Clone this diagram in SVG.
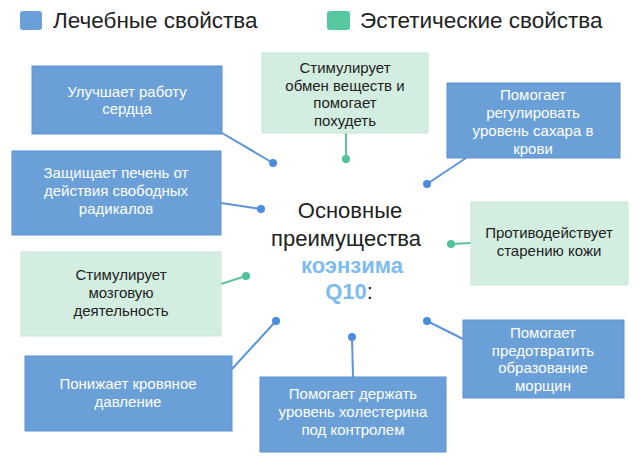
<svg xmlns="http://www.w3.org/2000/svg" width="640" height="459" viewBox="0 0 640 459">
<style>
text{font-family:"Liberation Sans","Open Sans",sans-serif;text-anchor:middle}
.b{fill:#6a9fd8;stroke:#5c92cf;stroke-width:1}
.g{fill:#d3eee1;stroke:#c8e8d8;stroke-width:1}
.tw{fill:#ffffff;font-size:15px}
.tk{fill:#222222;font-size:15px}
.lb{stroke:#5b95d8;stroke-width:2;fill:none}
.lg{stroke:#5cc49a;stroke-width:2;fill:none}
.db{fill:#4a8de0}
.dg{fill:#4fc397}
.leg{font-size:22.5px;fill:#222;text-anchor:start}
.c{font-size:22px;fill:#222}
.cb{font-size:22px;fill:#7cbcf0;font-weight:bold}
</style>
<rect width="640" height="459" fill="#ffffff"/>
<g id="legend">
<rect x="20" y="11" width="22" height="19" rx="3" fill="#6a9fd8"/>
<text class="leg" x="53" y="28">Лечебные свойства</text>
<rect x="327" y="11" width="23" height="19" rx="3" fill="#55c8a0"/>
<text class="leg" x="360" y="28">Эстетические свойства</text>
</g>
<g id="connectors">
<line class="lb" x1="222" y1="133" x2="273" y2="163"/><circle class="db" cx="273" cy="163" r="4"/>
<line class="lb" x1="221" y1="203" x2="261" y2="209"/><circle class="db" cx="261" cy="209" r="4"/>
<line class="lg" x1="346" y1="133" x2="346" y2="159"/><circle class="dg" cx="346" cy="159" r="4"/>
<line class="lb" x1="466" y1="158" x2="427" y2="184"/><circle class="db" cx="427" cy="184" r="4"/>
<line class="lg" x1="471" y1="243" x2="451" y2="244"/><circle class="dg" cx="451" cy="244" r="4"/>
<line class="lg" x1="221" y1="284" x2="246" y2="276"/><circle class="dg" cx="246" cy="276" r="4"/>
<line class="lb" x1="232" y1="369" x2="276" y2="321"/><circle class="db" cx="276" cy="321" r="4"/>
<line class="lb" x1="353" y1="377" x2="352" y2="337"/><circle class="db" cx="352" cy="337" r="4"/>
<line class="lb" x1="463" y1="339" x2="427" y2="321"/><circle class="db" cx="427" cy="321" r="4"/>
</g>
<g id="center">
<text class="c" x="350" y="218">Основные</text>
<text class="c" x="346" y="246">преимущества</text>
<text class="cb" x="352" y="273">коэнзима</text>
<text x="349" y="299" style="font-size:22px"><tspan fill="#7cbcf0" font-weight="bold">Q10</tspan><tspan fill="#222">:</tspan></text>
</g>
<g id="n1"><rect class="b" x="32" y="66" width="190" height="68"/>
<text class="tw" x="127" y="97">Улучшает работу</text><text class="tw" x="127" y="114">сердца</text></g>
<g id="n2"><rect class="b" x="12" y="151" width="209" height="84"/>
<text class="tw" x="116" y="178">Защищает печень от</text><text class="tw" x="116" y="196">действия свободных</text><text class="tw" x="116" y="214">радикалов</text></g>
<g id="n3"><rect class="g" x="262" y="53" width="166" height="80"/>
<text class="tk" x="345" y="73">Стимулирует</text><text class="tk" x="345" y="90.5">обмен веществ и</text><text class="tk" x="345" y="108">помогает</text><text class="tk" x="345" y="125.5">похудеть</text></g>
<g id="n4"><rect class="b" x="447" y="83" width="173" height="75"/>
<text class="tw" x="533" y="100">Помогает</text><text class="tw" x="533" y="118">регулировать</text><text class="tw" x="533" y="136">уровень сахара в</text><text class="tw" x="533" y="154">крови</text></g>
<g id="n5"><rect class="g" x="471" y="202" width="157" height="83"/>
<text class="tk" x="549" y="238">Противодействует</text><text class="tk" x="549" y="256">старению кожи</text></g>
<g id="n6"><rect class="g" x="21" y="252" width="200" height="84"/>
<text class="tk" x="121" y="280">Стимулирует</text><text class="tk" x="121" y="298">мозговую</text><text class="tk" x="121" y="316">деятельность</text></g>
<g id="n7"><rect class="b" x="25" y="356" width="207" height="75"/>
<text class="tw" x="128" y="389">Понижает кровяное</text><text class="tw" x="128" y="407">давление</text></g>
<g id="n8"><rect class="b" x="260" y="377" width="186" height="75"/>
<text class="tw" x="353" y="399">Помогает держать</text><text class="tw" x="353" y="417">уровень холестерина</text><text class="tw" x="353" y="435">под контролем</text></g>
<g id="n9"><rect class="b" x="463" y="320" width="161" height="78"/>
<text class="tw" x="543" y="338">Помогает</text><text class="tw" x="543" y="355.5">предотвратить</text><text class="tw" x="543" y="373">образование</text><text class="tw" x="543" y="390.5">морщин</text></g>
</svg>
